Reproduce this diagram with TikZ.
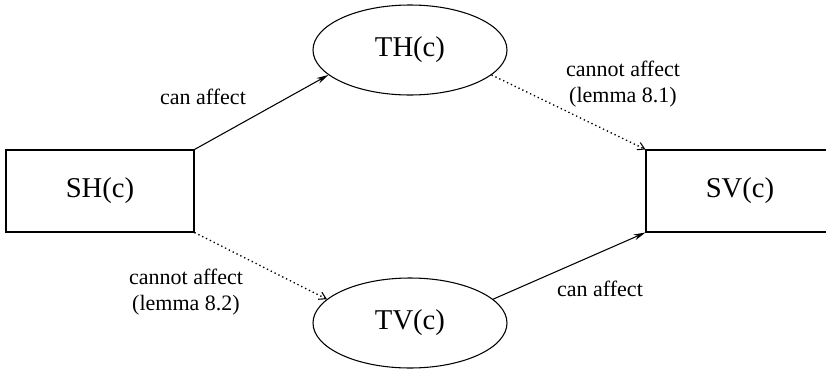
\documentclass[tikz,border=0pt]{standalone}
\usepackage{fontspec}
\setmainfont{Liberation Serif}
\usetikzlibrary{shapes.geometric,arrows.meta}
\tikzset{
  boxnode/.style={draw,line width=0.8pt,rectangle,minimum width=141pt,minimum height=61.5pt,inner sep=0pt,font=\fontsize{21.5}{24}\selectfont},
  ellnode/.style={draw,line width=0.8pt,ellipse,minimum width=145.5pt,minimum height=67.5pt,inner sep=0pt,font=\fontsize{21.5}{24}\selectfont},
  lbl/.style={align=center,inner sep=0pt,font=\fontsize{16.5}{19.5}\selectfont},
  affects/.style={line width=0.8pt,-{Stealth[length=9pt,width=4.5pt]}},
  noaffect/.style={line width=1pt,dash pattern=on 1pt off 2.2pt,-{Straight Barb[length=5pt,width=6pt,line width=0.8pt]}}
}
\begin{document}
\begin{tikzpicture}[x=0.75pt,y=-0.75pt]
\useasboundingbox (0,0) rectangle (826,372);
\clip (0,0) rectangle (826,372);
\node[boxnode] (SH) at (100,191) {SH(c)};
\node[boxnode] (SV) at (740,191) {SV(c)};
\node[ellnode] (TH) at (410,50) {TH(c)};
\node[ellnode] (TV) at (410,323) {TV(c)};
\draw[affects] (SH.north east) -- (TH.197);
\draw[noaffect] (TH.343) -- (SV.north west);
\draw[noaffect] (SH.south east) -- (TV.164);
\draw[affects] (TV.16) -- (SV.south west);
\node[lbl] (l1) at (203,97) {can affect};
\node[lbl] (l2) at (623,84) {cannot affect\\(lemma 8.1)};
\node[lbl] (l3) at (186,292) {cannot affect\\(lemma 8.2)};
\node[lbl] (l4) at (600,289) {can affect};
\end{tikzpicture}
\end{document}
